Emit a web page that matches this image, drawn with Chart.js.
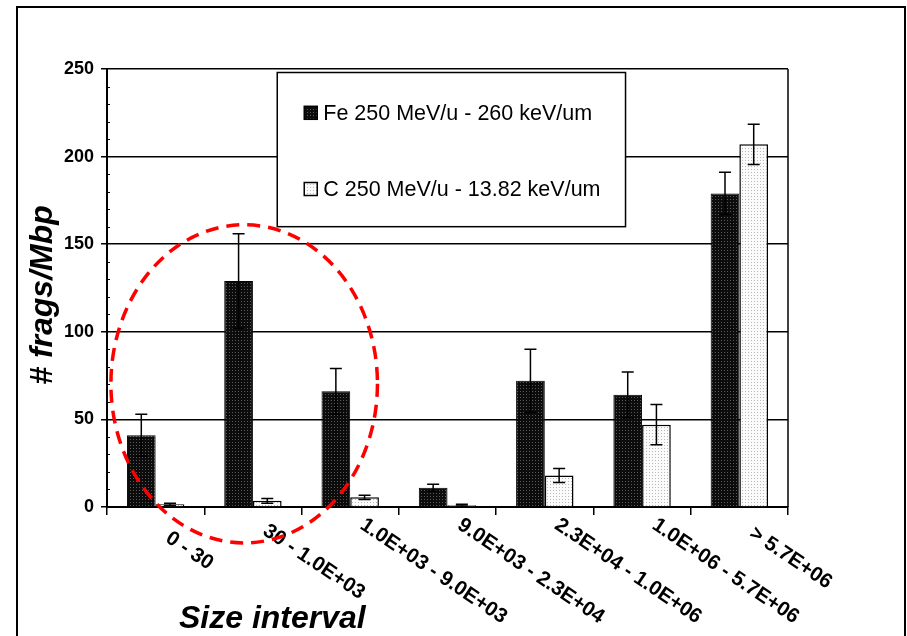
<!DOCTYPE html>
<html>
<head>
<meta charset="utf-8">
<script src="https://cdn.jsdelivr.net/npm/chart.js@4.4.1/dist/chart.umd.min.js"></script>
<style>
  html, body { margin: 0; padding: 0; background: #fff; }
  #wrap { width: 907px; height: 636px; }
</style>
</head>
<body>
<div id="wrap"><canvas id="fragChart"></canvas></div>
<script>
// categories and values
const sizeIntervals = ['0 - 30', '30 - 1.0E+03', '1.0E+03 - 9.0E+03', '9.0E+03 - 2.3E+04',
  '2.3E+04 - 1.0E+06', '1.0E+06 - 5.7E+06', '> 5.7E+06'];
const feValues = [41, 129, 66, 11, 72, 64, 179];
const feErrors = [12, 27, 13, 2, 18, 13, 12];
const cValues = [1.5, 3.5, 5.5, 1, 18, 47, 207];
const cErrors = [0.7, 1.3, 1.2, 0.5, 4, 11.5, 11.5];
const yTicks = [0, 50, 100, 150, 200, 250];

const FONT = "'Liberation Sans', Arial, sans-serif";

function dotPattern(bg, dot) {
  const pc = document.createElement('canvas');
  pc.width = 3; pc.height = 3;
  const p = pc.getContext('2d');
  p.fillStyle = bg;
  p.fillRect(0, 0, 3, 3);
  p.fillStyle = dot;
  p.fillRect(1, 1, 1, 1);
  return p.createPattern(pc, 'repeat');
}

const decor = {
  id: 'decor',
  beforeDraw(chart) {
    const ctx = chart.ctx;
    ctx.save();
    ctx.fillStyle = '#fff';
    ctx.fillRect(0, 0, chart.width, chart.height);
    ctx.strokeStyle = '#000';
    ctx.lineWidth = 2;
    ctx.strokeRect(17, 7, 888, 640);
    ctx.restore();
  },
  afterDatasetsDraw(chart) {
    // error bars
    const ctx = chart.ctx;
    const y = chart.scales.y;
    const errs = [feErrors, cErrors];
    ctx.save();
    ctx.strokeStyle = '#000';
    ctx.lineWidth = 1.5;
    chart.data.datasets.forEach((ds, di) => {
      chart.getDatasetMeta(di).data.forEach((bar, i) => {
        const v = ds.data[i], e = errs[di][i];
        const yt = y.getPixelForValue(v + e), yb = y.getPixelForValue(v - e);
        ctx.beginPath();
        ctx.moveTo(bar.x, yt); ctx.lineTo(bar.x, yb);
        ctx.moveTo(bar.x - 6, yt); ctx.lineTo(bar.x + 6, yt);
        ctx.moveTo(bar.x - 6, yb); ctx.lineTo(bar.x + 6, yb);
        ctx.stroke();
      });
    });
    ctx.restore();
  },
  afterDraw(chart) {
    const ctx = chart.ctx;
    const a = chart.chartArea;
    const x = chart.scales.x, y = chart.scales.y;
    ctx.save();
    ctx.strokeStyle = '#000';

    // minor ticks on y axis
    ctx.lineWidth = 1;
    ctx.beginPath();
    for (let v = 10; v < 250; v += 10) {
      if (v % 50 === 0) continue;
      const py = Math.round(y.getPixelForValue(v)) + 0.5;
      ctx.moveTo(a.left, py); ctx.lineTo(a.left + 3, py);
    }
    ctx.stroke();

    // right border of plot
    ctx.lineWidth = 1.5;
    ctx.beginPath();
    ctx.moveTo(a.right, a.top); ctx.lineTo(a.right, a.bottom);
    ctx.stroke();

    // legend box
    const lx = x.getPixelForValue(1.25), rx = x.getPixelForValue(4.83);
    const ty = y.getPixelForValue(248), by = y.getPixelForValue(160);
    ctx.fillStyle = '#fff';
    ctx.fillRect(lx, ty, rx - lx, by - ty);
    ctx.strokeRect(lx, ty, rx - lx, by - ty);
    const rows = [y.getPixelForValue(225), y.getPixelForValue(181.5)];
    ctx.font = '21.5px ' + FONT;
    ctx.textAlign = 'left';
    ctx.textBaseline = 'middle';
    chart.data.datasets.forEach((ds, di) => {
      const cy = rows[di];
      ctx.fillStyle = ds.backgroundColor;
      ctx.fillRect(lx + 27, cy - 6.5, 13, 13);
      ctx.lineWidth = 1.5;
      ctx.strokeRect(lx + 27, cy - 6.5, 13, 13);
      ctx.fillStyle = '#000';
      ctx.fillText(ds.label, lx + 46, cy + 1);
    });

    // rotated category labels
    ctx.font = 'bold 20.5px ' + FONT;
    ctx.fillStyle = '#000';
    chart.data.labels.forEach((lab, i) => {
      const cx = x.getPixelForValue(i);
      const w = ctx.measureText(lab).width;
      ctx.save();
      ctx.translate(cx + 12, a.bottom + 35 - 0.11 * w);
      ctx.rotate(34 * Math.PI / 180);
      ctx.textAlign = 'left';
      ctx.textBaseline = 'middle';
      ctx.fillText(lab, 0, 0);
      ctx.restore();
    });

    // axis titles
    ctx.font = 'italic bold 32px ' + FONT;
    ctx.textAlign = 'center';
    ctx.textBaseline = 'alphabetic';
    ctx.fillText('Size interval', x.getPixelForValue(1.2), 628);
    ctx.save();
    ctx.translate(52, y.getPixelForValue(121));
    ctx.rotate(-Math.PI / 2);
    ctx.fillText('# frags/Mbp', 0, 0);
    ctx.restore();

    // red dashed ellipse
    const ecx = x.getPixelForValue(0.91), ecy = y.getPixelForValue(70.3);
    const erx = x.getPixelForValue(0.91 + 1.37) - ecx;
    const ery = ecy - y.getPixelForValue(70.3 + 90.8);
    ctx.strokeStyle = '#ff0000';
    ctx.lineWidth = 3.5;
    ctx.setLineDash([13, 8]);
    ctx.beginPath();
    ctx.ellipse(ecx, ecy, erx, ery, 0, 0, Math.PI * 2);
    ctx.stroke();
    ctx.restore();
  }
};

new Chart(document.getElementById('fragChart'), {
  type: 'bar',
  data: {
    labels: sizeIntervals,
    datasets: [
      {
        label: 'Fe 250 MeV/u - 260 keV/um',
        data: feValues,
        backgroundColor: dotPattern('#0c0c0c', '#5a5a5a'),
        borderColor: '#000',
        borderWidth: 1
      },
      {
        label: 'C 250 MeV/u - 13.82 keV/um',
        data: cValues,
        backgroundColor: dotPattern('#fbfbfb', '#b8b8b8'),
        borderColor: '#000',
        borderWidth: 1.5
      }
    ]
  },
  options: {
    responsive: true,
    maintainAspectRatio: false,
    animation: false,
    devicePixelRatio: 1,
    categoryPercentage: 0.59,
    barPercentage: 1,
    layout: { padding: { top: 69, right: 119, left: 0, bottom: 0 } },
    plugins: {
      legend: { display: false },
      tooltip: { enabled: false }
    },
    scales: {
      x: {
        offset: true,
        grid: { offset: true, drawOnChartArea: false, drawTicks: true, tickLength: 8, color: '#000', lineWidth: 1.5 },
        border: { display: true, color: '#000', width: 2 },
        ticks: { display: false },
        afterFit(scale) { scale.height = 129; }
      },
      y: {
        min: 0,
        max: 250,
        afterBuildTicks(scale) { scale.ticks = yTicks.map(v => ({ value: v })); },
        grid: { color: '#000', lineWidth: 1.5, tickLength: 6 },
        border: { display: true, color: '#000', width: 2 },
        ticks: { color: '#000', padding: 7, font: { family: FONT, size: 18, weight: 'bold' } },
        afterFit(scale) { scale.width = 107; }
      }
    }
  },
  plugins: [decor]
});
</script>
</body>
</html>
